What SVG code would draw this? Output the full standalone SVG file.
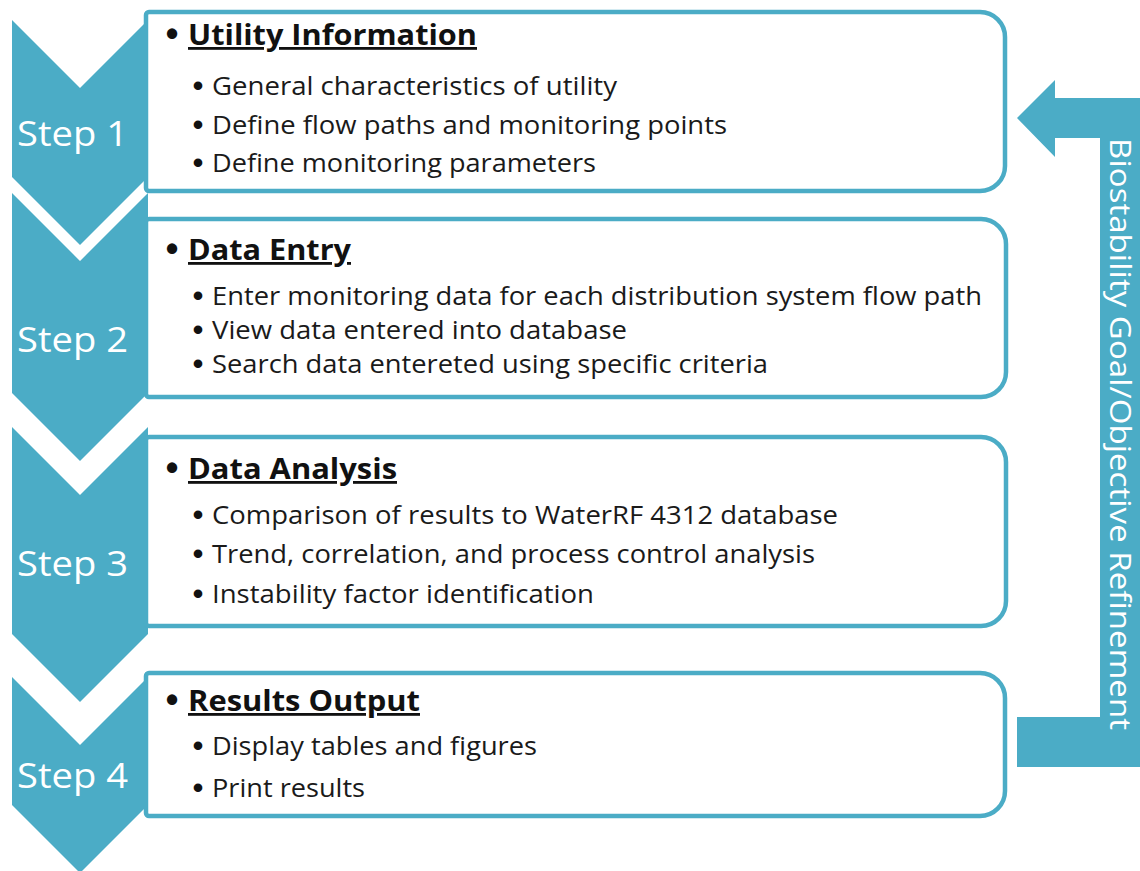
<svg xmlns="http://www.w3.org/2000/svg" width="1140" height="871" viewBox="0 0 1140 871">
  <style>
    .chev { fill: #4BACC6; }
    .box { fill: #ffffff; stroke: #4BACC6; stroke-width: 4.5; }
    .step { font-family: "Open Sans", "Liberation Sans", sans-serif; font-size: 34px; fill: #ffffff; }
    .head { font-family: "Open Sans", "Liberation Sans", sans-serif; font-size: 28px; font-weight: bold; fill: #111111; text-decoration: underline; }
    .item { font-family: "Open Sans", "Liberation Sans", sans-serif; font-size: 26px; fill: #1a1a1a; }
    .bul { font-family: "Liberation Sans", Arial, sans-serif; font-weight: bold; fill: #111111; text-anchor: middle; }
    .b1 { font-size: 36px; }
    .b2 { font-size: 30px; }
    .side { font-family: "Open Sans", "Liberation Sans", sans-serif; font-size: 29px; fill: #ffffff; }
  </style>

  <!-- Step chevrons (drawn behind the content boxes) -->
  <g id="step1">
    <polygon class="chev" points="12,20 80,88 148,20 148,177 80,245 12,177"/>
    <text class="step" x="17" y="146" textLength="111" lengthAdjust="spacingAndGlyphs">Step 1</text>
  </g>
  <g id="step2">
    <polygon class="chev" points="12,193 80,261 148,193 148,393 80,461 12,393"/>
    <text class="step" x="17" y="352" textLength="111" lengthAdjust="spacingAndGlyphs">Step 2</text>
  </g>
  <g id="step3">
    <polygon class="chev" points="12,427 80,495 148,427 148,634 80,702 12,634"/>
    <text class="step" x="17" y="576" textLength="111" lengthAdjust="spacingAndGlyphs">Step 3</text>
  </g>
  <g id="step4">
    <polygon class="chev" points="12,677 80,745 148,677 148,805 80,873 12,805"/>
    <text class="step" x="17" y="788" textLength="111" lengthAdjust="spacingAndGlyphs">Step 4</text>
  </g>

  <!-- Content boxes: square left corners, rounded right corners -->
  <g id="utility-information">
    <path class="box" d="M149,12 H980 A25,25 0 0 1 1005,37 V166 A25,25 0 0 1 980,191 H149 A3,3 0 0 1 146,188 V15 A3,3 0 0 1 149,12 Z"/>
    <text class="bul b1" x="172" y="46">•</text>
    <text class="head" x="188" y="45" textLength="289" lengthAdjust="spacingAndGlyphs">Utility Information</text>
    <text class="bul b2" x="198" y="96">•</text>
    <text class="item" x="212" y="95" textLength="405" lengthAdjust="spacingAndGlyphs">General characteristics of utility</text>
    <text class="bul b2" x="198" y="135">•</text>
    <text class="item" x="212" y="134" textLength="515" lengthAdjust="spacingAndGlyphs">Define flow paths and monitoring  points</text>
    <text class="bul b2" x="198" y="173">•</text>
    <text class="item" x="212" y="172" textLength="384" lengthAdjust="spacingAndGlyphs">Define monitoring  parameters</text>
  </g>

  <g id="data-entry">
    <path class="box" d="M149,219 H981 A25,25 0 0 1 1006,244 V372 A25,25 0 0 1 981,397 H149 A3,3 0 0 1 146,394 V222 A3,3 0 0 1 149,219 Z"/>
    <text class="bul b1" x="172" y="261">•</text>
    <text class="head" x="188" y="260" textLength="163" lengthAdjust="spacingAndGlyphs">Data Entry</text>
    <text class="bul b2" x="198" y="306">•</text>
    <text class="item" x="212" y="305" textLength="770" lengthAdjust="spacingAndGlyphs">Enter monitoring  data for each distribution  system flow path</text>
    <text class="bul b2" x="198" y="340">•</text>
    <text class="item" x="212" y="339" textLength="415" lengthAdjust="spacingAndGlyphs">View data entered into database</text>
    <text class="bul b2" x="198" y="374">•</text>
    <text class="item" x="212" y="373" textLength="556" lengthAdjust="spacingAndGlyphs">Search data entereted using specific criteria</text>
  </g>

  <g id="data-analysis">
    <path class="box" d="M149,437 H981 A25,25 0 0 1 1006,462 V601 A25,25 0 0 1 981,626 H149 A3,3 0 0 1 146,623 V440 A3,3 0 0 1 149,437 Z"/>
    <text class="bul b1" x="172" y="480">•</text>
    <text class="head" x="188" y="479" textLength="209" lengthAdjust="spacingAndGlyphs">Data Analysis</text>
    <text class="bul b2" x="198" y="525">•</text>
    <text class="item" x="212" y="524" textLength="626" lengthAdjust="spacingAndGlyphs">Comparison of results to WaterRF 4312 database</text>
    <text class="bul b2" x="198" y="564">•</text>
    <text class="item" x="212" y="563" textLength="603" lengthAdjust="spacingAndGlyphs">Trend, correlation, and process control analysis</text>
    <text class="bul b2" x="198" y="604">•</text>
    <text class="item" x="212" y="603" textLength="382" lengthAdjust="spacingAndGlyphs">Instability factor identification</text>
  </g>

  <g id="results-output">
    <path class="box" d="M149,673 H980 A25,25 0 0 1 1005,698 V791 A25,25 0 0 1 980,816 H149 A3,3 0 0 1 146,813 V676 A3,3 0 0 1 149,673 Z"/>
    <text class="bul b1" x="172" y="712">•</text>
    <text class="head" x="188" y="711" textLength="232" lengthAdjust="spacingAndGlyphs">Results Output</text>
    <text class="bul b2" x="198" y="756">•</text>
    <text class="item" x="212" y="755" textLength="325" lengthAdjust="spacingAndGlyphs">Display tables and figures</text>
    <text class="bul b2" x="198" y="798">•</text>
    <text class="item" x="212" y="797" textLength="153" lengthAdjust="spacingAndGlyphs">Print results</text>
  </g>

  <!-- Feedback loop arrow back to step 1 -->
  <g id="connectors">
    <polygon class="chev" points="1017,118 1055,80 1055,98 1140,98 1140,767 1017,767 1017,717 1100,717 1100,138 1055,138 1055,157"/>
    <text class="side" transform="translate(1110,138) rotate(90)" textLength="592" lengthAdjust="spacingAndGlyphs">Biostability Goal/Objective Refinement</text>
  </g>
</svg>
